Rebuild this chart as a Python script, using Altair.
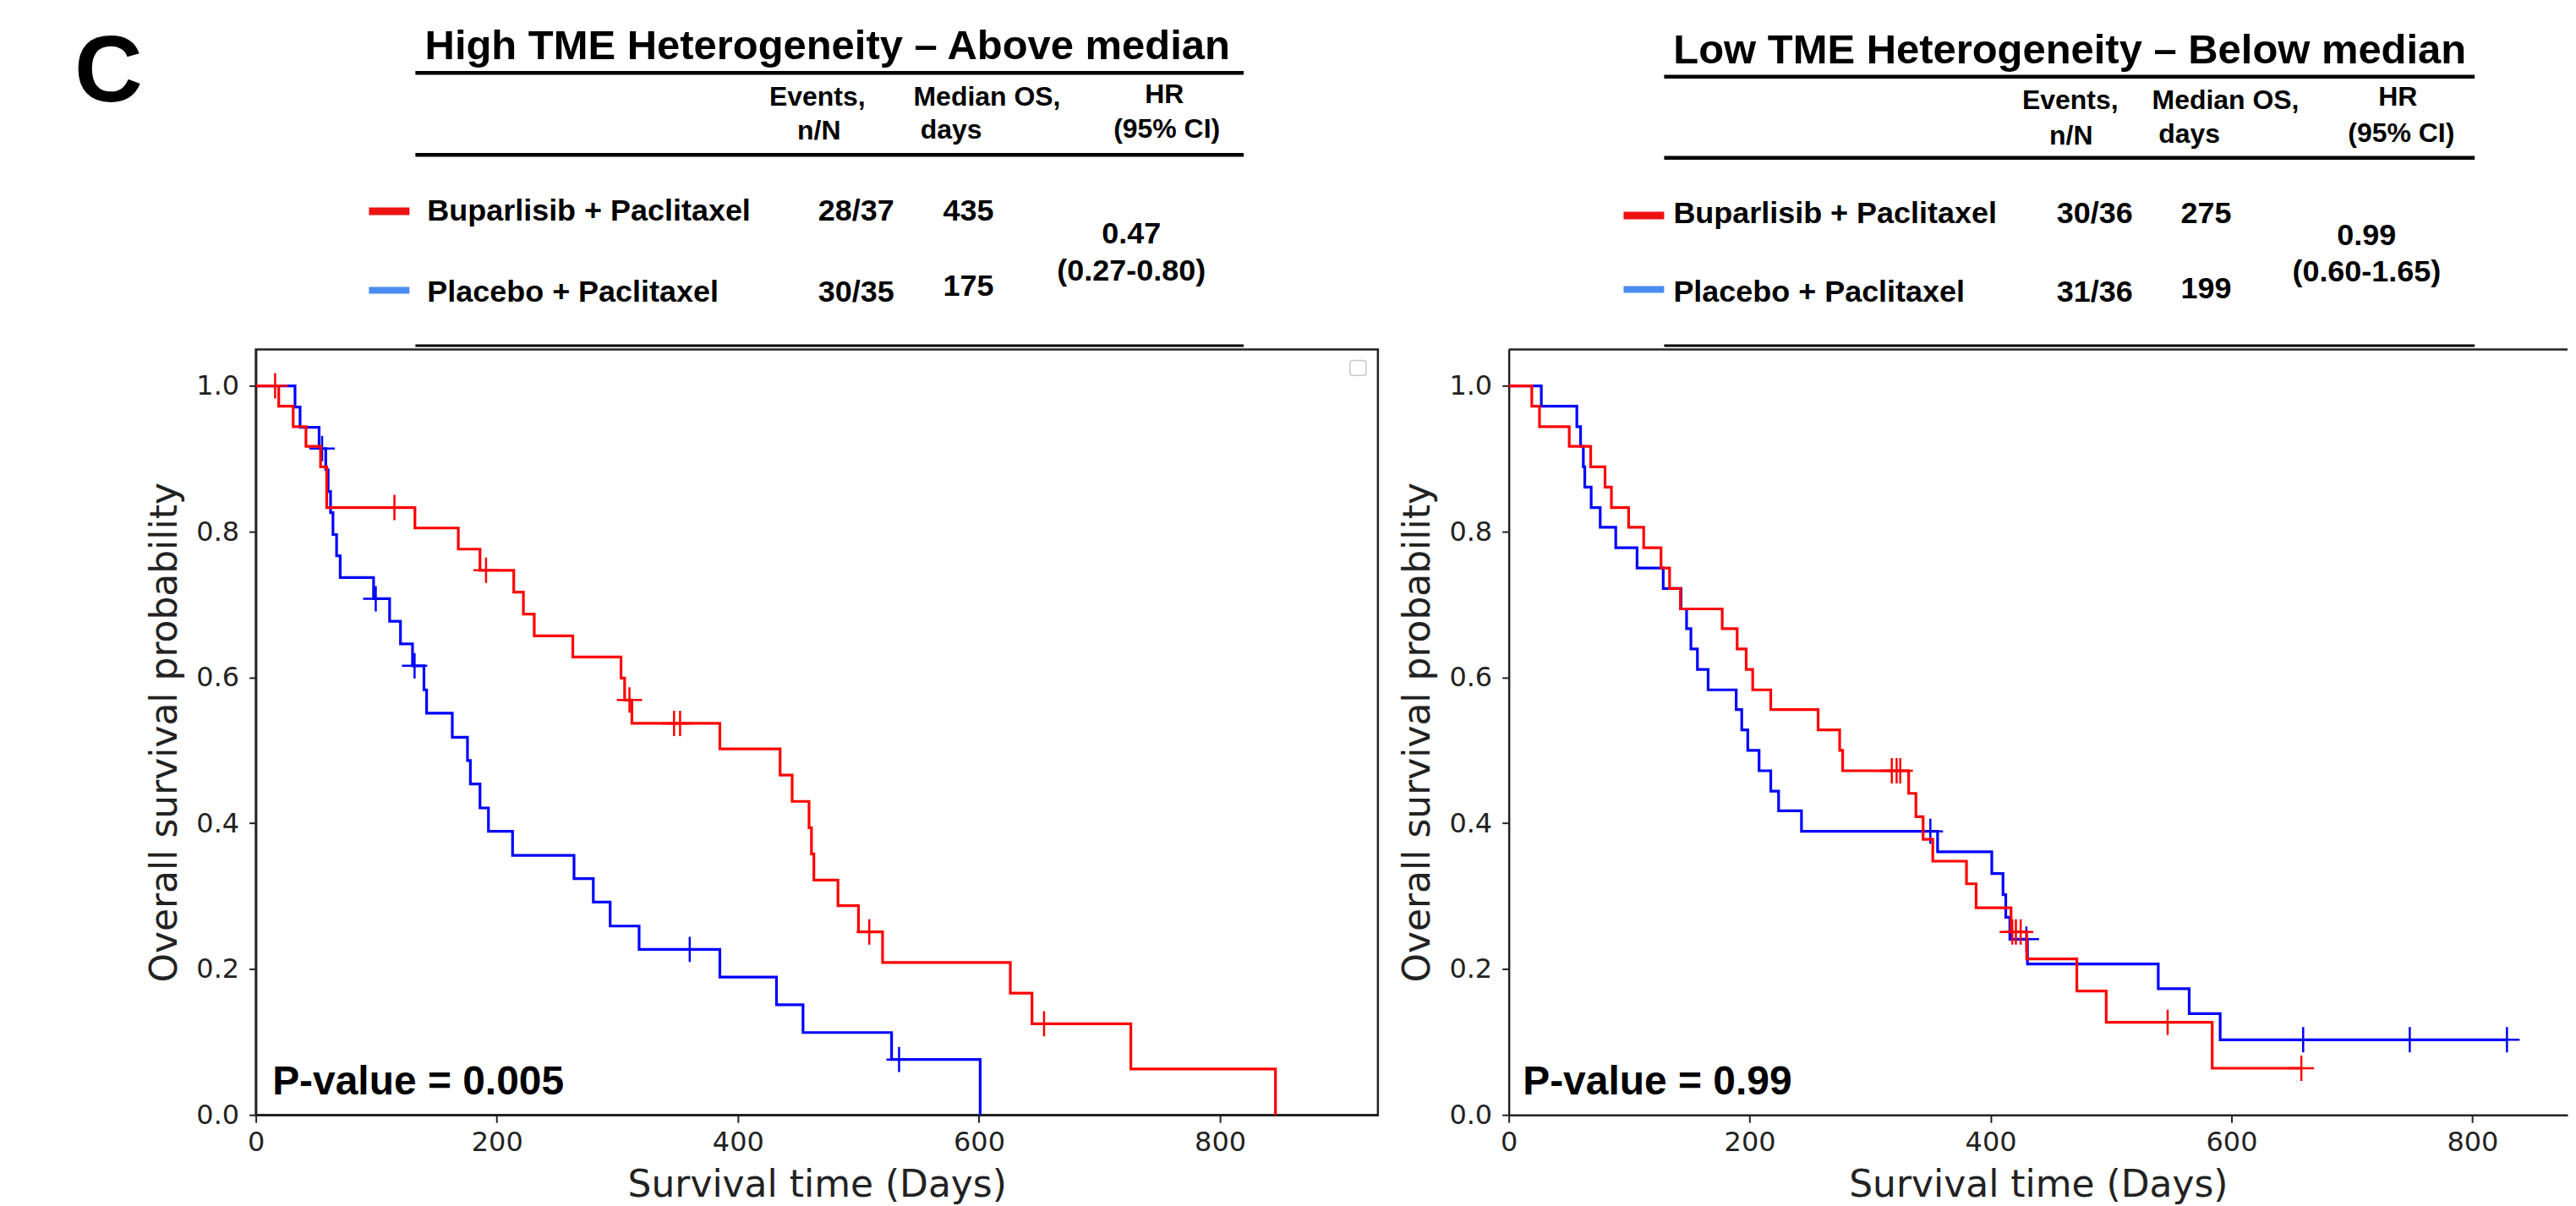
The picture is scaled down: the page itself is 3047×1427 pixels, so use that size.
import altair as alt
import pandas as pd

# ---------------- data ----------------
# High TME heterogeneity panel (left)
hi_bup_t = [0, 19, 31, 41.6, 53.7, 58.8, 132, 168, 186, 214, 222, 231, 263, 303, 306, 312,
            385, 435, 445, 459, 461, 463, 483, 500, 520, 626, 644, 726, 846]
hi_bup_s = [1.0, 0.972, 0.944, 0.917, 0.889, 0.833, 0.805, 0.776, 0.747, 0.717, 0.687, 0.657,
            0.628, 0.599, 0.569, 0.537, 0.502, 0.466, 0.430, 0.394, 0.358, 0.322, 0.287, 0.251,
            0.209, 0.167, 0.125, 0.063, 0.0]
hi_bup_cens_t = [16, 115, 191, 310, 347, 352, 509, 654]
hi_bup_cens_s = [1.0, 0.833, 0.747, 0.569, 0.537, 0.537, 0.251, 0.125]

hi_pla_t = [0, 32.5, 36.7, 52.5, 58, 60, 62, 64, 67, 70, 97.7, 111, 120, 130, 139.5, 141.7,
            163, 175.6, 178, 186, 193, 213, 264, 280, 294, 318, 385, 432, 454, 527.5, 601]
hi_pla_s = [1.0, 0.971, 0.943, 0.914, 0.885, 0.855, 0.826, 0.796, 0.767, 0.737, 0.708, 0.677,
            0.646, 0.616, 0.583, 0.551, 0.518, 0.486, 0.454, 0.421, 0.389, 0.356, 0.324, 0.292,
            0.259, 0.227, 0.189, 0.151, 0.113, 0.076, 0.0]
hi_pla_cens_t = [55, 99.5, 131.7, 360, 533.7]
hi_pla_cens_s = [0.914, 0.708, 0.616, 0.227, 0.076]

# Low TME heterogeneity panel (right)
lo_bup_t = [0, 19.1, 25.5, 50.2, 68, 79.9, 85.2, 99.5, 112, 126.4, 133.5, 142.5, 177.2, 189.6,
            197.1, 202.5, 217.5, 256.8, 274.7, 277.2, 332, 338, 344, 352, 380, 388, 417, 430,
            471.6, 496, 584, 658]
lo_bup_s = [1.0, 0.972, 0.944, 0.917, 0.889, 0.861, 0.833, 0.806, 0.778, 0.750, 0.722, 0.694,
            0.667, 0.639, 0.611, 0.583, 0.556, 0.528, 0.500, 0.472, 0.441, 0.409, 0.378, 0.348,
            0.317, 0.284, 0.251, 0.214, 0.170, 0.127, 0.064, 0.064]
lo_bup_cens_t = [318, 322, 325, 418, 421, 425, 547, 658]
lo_bup_cens_s = [0.472, 0.472, 0.472, 0.251, 0.251, 0.251, 0.127, 0.064]

lo_pla_t = [0, 27, 56.5, 59.6, 61.9, 63.1, 68.4, 75.9, 88.8, 106.5, 128.2, 143, 147.6, 151.2,
            156.6, 165.5, 188.8, 193.4, 198.4, 207.8, 217.5, 224, 243, 356, 401, 410.3, 412.6,
            416, 430.6, 539.2, 564.9, 590.6, 828.7]
lo_pla_s = [1.0, 0.972, 0.944, 0.917, 0.889, 0.861, 0.833, 0.806, 0.778, 0.750, 0.722, 0.694,
            0.667, 0.639, 0.611, 0.583, 0.556, 0.528, 0.500, 0.472, 0.444, 0.417, 0.389, 0.361,
            0.331, 0.302, 0.271, 0.241, 0.207, 0.173, 0.139, 0.103, 0.103]
lo_pla_cens_t = [350, 429.7, 659.5, 748, 828.7]
lo_pla_cens_s = [0.389, 0.241, 0.103, 0.103, 0.103]

# texts
panel_letter = "C"
table_titles = ["High TME Heterogeneity \u2013 Above median", "Low TME Heterogeneity \u2013 Below median"]
col_headers = [["Events,", "n/N"], ["Median OS,", "days"], ["HR", "(95% CI)"]]
arms = ["Buparlisib + Paclitaxel", "Placebo + Paclitaxel"]
hi_events = ["28/37", "30/35"]
hi_median = ["435", "175"]
hi_hr = ["0.47", "(0.27-0.80)"]
lo_events = ["30/36", "31/36"]
lo_median = ["275", "199"]
lo_hr = ["0.99", "(0.60-1.65)"]
p_values = ["P-value = 0.005", "P-value = 0.99"]
x_ticks = [0, 200, 400, 600, 800]
y_ticks = [0.0, 0.2, 0.4, 0.6, 0.8, 1.0]

# ---------------- styling ----------------
RED = "#ff0000"
BLUE = "#0000ff"
SW_RED = "#ee1111"
SW_BLUE = "#4a8cf0"
INK = "#222222"
TFONT = "Liberation Sans"
AFONT = "DejaVu Sans"
CROSS = "M-1,0L1,0M0,-1L0,1"
H = 907
W_LEFT = 1329
W_RIGHT = 1254
XMAX_LEFT = 931
XMAX_RIGHT = 879

ONE = pd.DataFrame({"k": [0]})


def x_enc(xmax):
    return alt.X("t:Q", scale=alt.Scale(domain=[0, xmax], nice=False),
                 axis=alt.Axis(values=x_ticks, format="d", title="Survival time (Days)",
                               labelFont=AFONT, labelFontSize=32, labelColor=INK,
                               titleFont=AFONT, titleFontSize=44, titleFontWeight="normal",
                               titleColor=INK, tickSize=9, tickWidth=2, tickColor=INK,
                               domain=True, domainColor=INK, domainWidth=2.5, grid=False,
                               labelPadding=8, titlePadding=13, labelFlush=False,
                               labelOverlap=False))


def y_enc():
    return alt.Y("s:Q", scale=alt.Scale(domain=[0, 1.05], nice=False),
                 axis=alt.Axis(values=y_ticks, format=".1f", title="Overall survival probability",
                               labelFont=AFONT, labelFontSize=32, labelColor=INK,
                               titleFont=AFONT, titleFontSize=44, titleFontWeight="normal",
                               titleColor=INK, tickSize=8, tickWidth=2, tickColor=INK,
                               domain=True, domainColor=INK, domainWidth=2.5, grid=False,
                               labelPadding=12, titlePadding=14, labelFlush=False,
                               labelOverlap=False))


def km_layers(t, s, ct, cs, color, xmax):
    line = alt.Chart(pd.DataFrame({"t": t, "s": s})).mark_line(
        interpolate="step-after", color=color, strokeWidth=3.2
    ).encode(x=x_enc(xmax), y=y_enc())
    cens = alt.Chart(pd.DataFrame({"t": ct, "s": cs})).mark_point(
        shape=CROSS, filled=False, size=900, strokeWidth=2.5, color=color, opacity=1
    ).encode(x=x_enc(xmax), y=y_enc())
    return [line, cens]


def txt(s, x, y, size, align="left"):
    return alt.Chart(ONE).mark_text(
        text=s, fontSize=size, align=align, baseline="alphabetic", font=TFONT,
        fontWeight="bold", color="black"
    ).encode(x=alt.value(x), y=alt.value(y))


def hline(x1, x2, y, w):
    return alt.Chart(ONE).mark_rule(color="black", strokeWidth=w).encode(
        x=alt.value(x1), x2=alt.value(x2), y=alt.value(y))


def box(x1, x2, y1, y2, color):
    return alt.Chart(ONE).mark_rect(color=color).encode(
        x=alt.value(x1), x2=alt.value(x2), y=alt.value(y1), y2=alt.value(y2))


def pval(s, tx, xmax):
    return alt.Chart(pd.DataFrame({"t": [tx], "s": [0.028]})).mark_text(
        text=s, fontSize=48, align="left", baseline="alphabetic", font=TFONT,
        fontWeight="bold", color="black"
    ).encode(x=x_enc(xmax), y=y_enc())


# ---------------- left panel ----------------
left_layers = []
left_layers += km_layers(hi_pla_t, hi_pla_s, hi_pla_cens_t, hi_pla_cens_s, BLUE, XMAX_LEFT)
left_layers += km_layers(hi_bup_t, hi_bup_s, hi_bup_cens_t, hi_bup_cens_s, RED, XMAX_LEFT)
left_layers.append(pval(p_values[0], 13.7, XMAX_LEFT))
# empty legend frame (upper right)
left_layers.append(alt.Chart(ONE).mark_rect(fill="white", stroke="#c8c8c8", strokeWidth=1.5,
                                            cornerRadius=3).encode(
    x=alt.value(1296), x2=alt.value(1315), y=alt.value(13), y2=alt.value(31)))
# invisible anchor fixing the top-left corner of the whole figure
left_layers.append(alt.Chart(ONE).mark_rect(opacity=0).encode(
    x=alt.value(-293), x2=alt.value(-292), y=alt.value(-403), y2=alt.value(-402)))
left_layers += [
    txt(panel_letter, -215, -294, 112),
    txt(table_titles[0], 677, -344, 49, "center"),
    hline(189, 1170, -327.5, 4.5),
    txt(col_headers[0][0], 665, -289, 32, "center"),
    txt(col_headers[0][1], 667, -249, 32, "center"),
    txt(col_headers[1][0], 866, -289, 32, "center"),
    txt(col_headers[1][1], 823.5, -250, 32, "center"),
    txt(col_headers[2][0], 1076, -292, 32, "center"),
    txt(col_headers[2][1], 1079, -251, 32, "center"),
    hline(189, 1170, -230.5, 4.5),
    box(134, 182, -168, -159, SW_RED),
    txt(arms[0], 203, -153, 36),
    txt(hi_events[0], 711, -153, 36, "center"),
    txt(hi_median[0], 844, -153, 36, "center"),
    txt(hi_hr[0], 1037, -126, 36, "center"),
    txt(hi_hr[1], 1037, -82, 36, "center"),
    box(134, 182, -74, -66, SW_BLUE),
    txt(arms[1], 203, -56, 36),
    txt(hi_events[1], 711, -56, 36, "center"),
    txt(hi_median[1], 844, -63, 36, "center"),
    hline(189, 1170, -4.5, 3),
]
left = alt.layer(*left_layers).properties(
    width=W_LEFT, height=H,
    view=alt.ViewBackground(stroke=INK, strokeWidth=2.5, fill="white"))

# ---------------- right panel ----------------
right_layers = []
right_layers += km_layers(lo_pla_t, lo_pla_s, lo_pla_cens_t, lo_pla_cens_s, BLUE, XMAX_RIGHT)
right_layers += km_layers(lo_bup_t, lo_bup_s, lo_bup_cens_t, lo_bup_cens_s, RED, XMAX_RIGHT)
right_layers.append(pval(p_values[1], 11.6, XMAX_RIGHT))
right_layers.append(alt.Chart(ONE).mark_rule(color=INK, strokeWidth=2.5).encode(
    x=alt.value(0), x2=alt.value(W_RIGHT), y=alt.value(0)))
right_layers += [
    txt(table_titles[1], 664.5, -339, 49, "center"),
    hline(184, 1144, -323, 4.5),
    txt(col_headers[0][0], 665, -285, 32, "center"),
    txt(col_headers[0][1], 666, -243, 32, "center"),
    txt(col_headers[1][0], 849, -285, 32, "center"),
    txt(col_headers[1][1], 806, -245, 32, "center"),
    txt(col_headers[2][0], 1053, -289, 32, "center"),
    txt(col_headers[2][1], 1057, -246, 32, "center"),
    hline(184, 1144, -227, 4.5),
    box(136, 184, -163, -154, SW_RED),
    txt(arms[0], 195, -150, 36),
    txt(lo_events[0], 694, -150, 36, "center"),
    txt(lo_median[0], 826, -150, 36, "center"),
    txt(lo_hr[0], 1016, -124, 36, "center"),
    txt(lo_hr[1], 1016, -81, 36, "center"),
    box(136, 184, -75, -67, SW_BLUE),
    txt(arms[1], 195, -56, 36),
    txt(lo_events[1], 694, -56, 36, "center"),
    txt(lo_median[1], 826, -60, 36, "center"),
    hline(184, 1144, -4.5, 3),
]
right = alt.layer(*right_layers).properties(
    width=W_RIGHT, height=H,
    view=alt.ViewBackground(strokeOpacity=0, fill="white"))

chart = alt.hconcat(left, right, spacing=155, bounds="flush").properties(
    padding={"left": 0, "top": 0, "right": 0, "bottom": 0}
).configure(background="white")

chart.save("out.html", embed_options={"renderer": "svg", "actions": False})
